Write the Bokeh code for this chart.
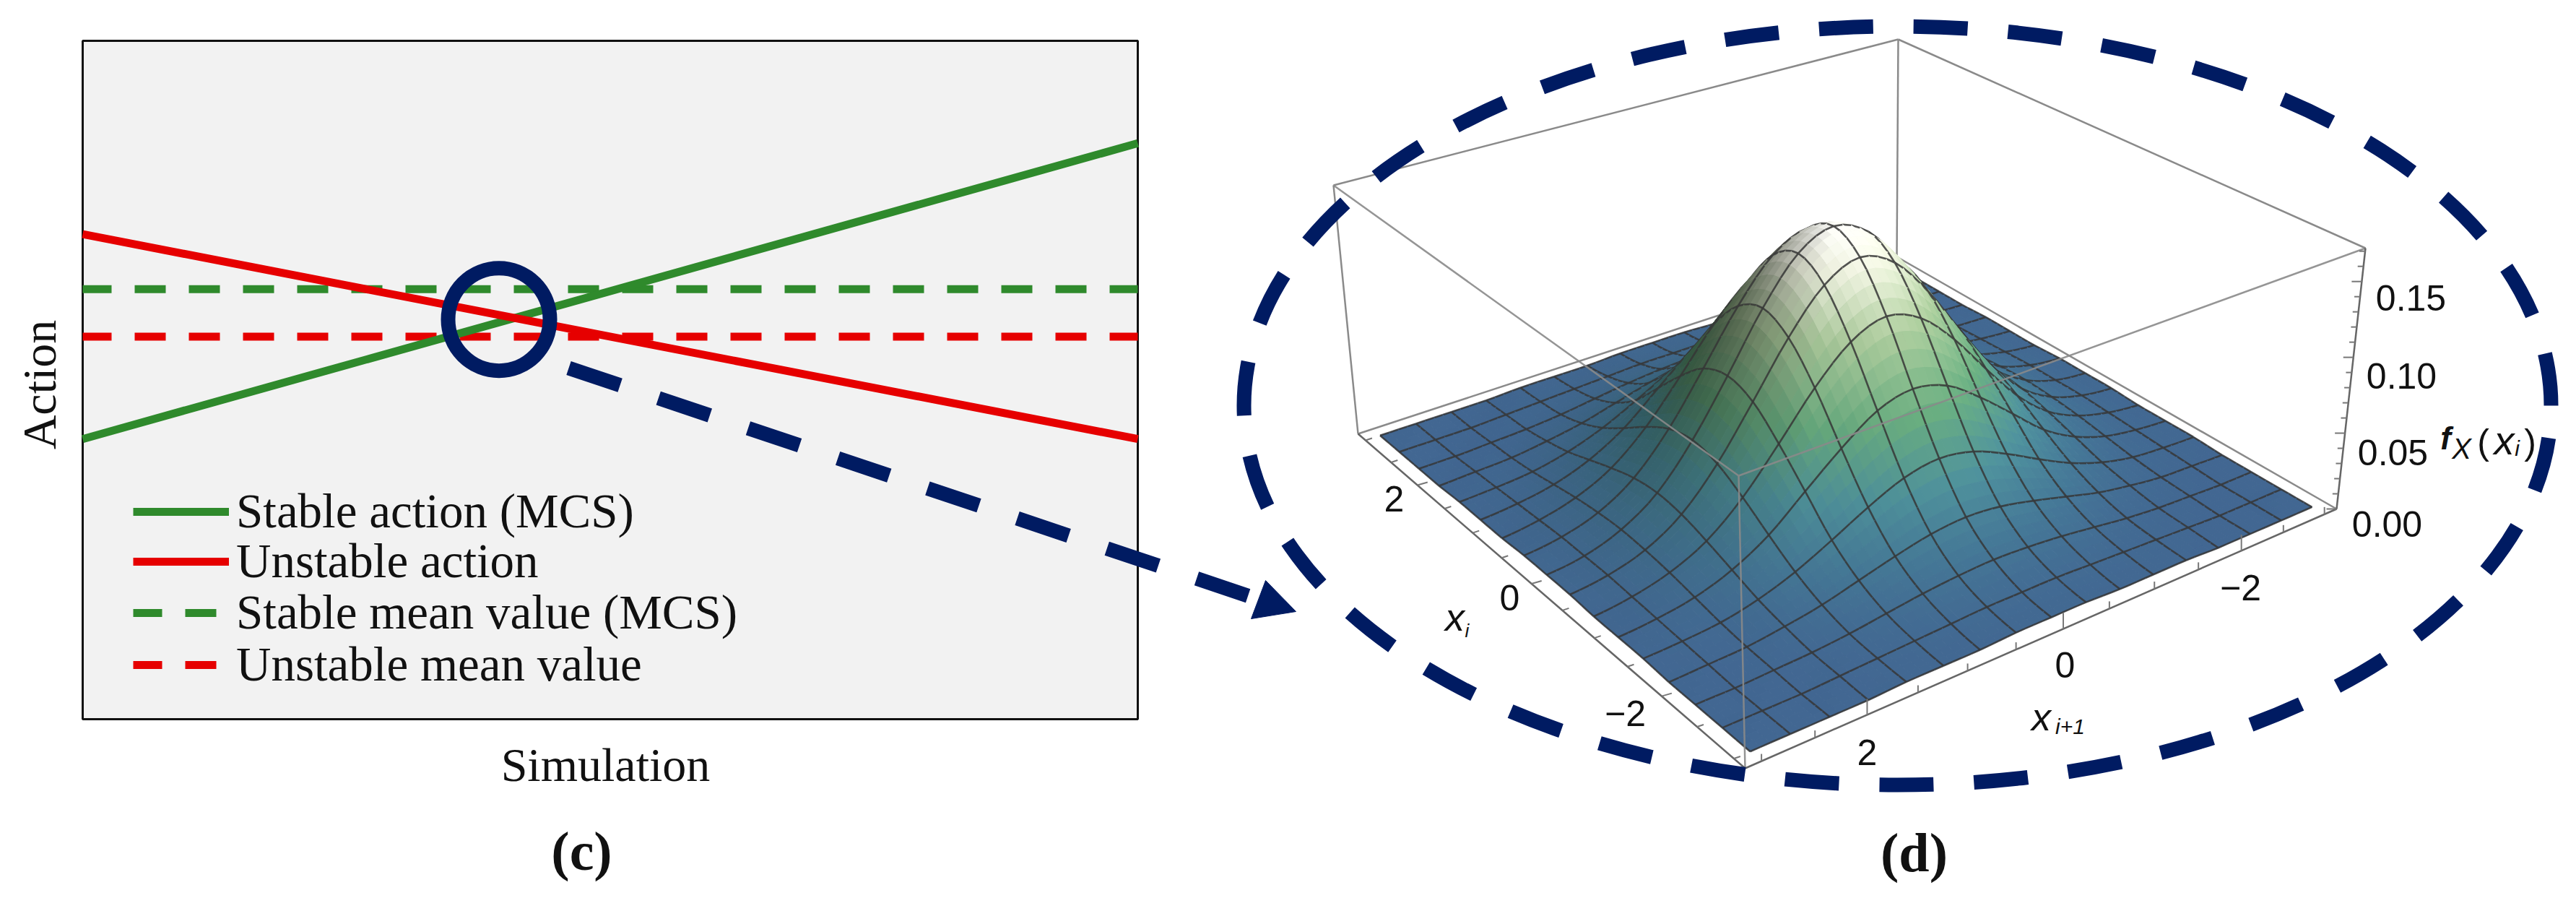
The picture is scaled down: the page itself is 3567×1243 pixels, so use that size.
import numpy as np
from bokeh.plotting import figure
from bokeh.models import Range1d, ColumnDataSource, Legend, LegendItem
from bokeh.core.properties import value
from bokeh.embed import file_html
from bokeh.resources import INLINE

# ---------- panel (c) data (normalised axes: 0..1 over the panel box) ----------
sim = [0.0, 1.0]
stable_action = [0.413, 0.849]
unstable_action = [0.715, 0.413]
stable_mean = [0.634, 0.634]
unstable_mean = [0.564, 0.564]
legend_labels = ["Stable action (MCS)", "Unstable action", "Stable mean value (MCS)", "Unstable mean value"]

# ---------- panel (d) data: density on the mesh nodes, in 1/1000 ----------
xi_nodes = [-3.0, -2.625, -2.25, -1.875, -1.5, -1.125, -0.75, -0.375, 0.0, 0.375, 0.75, 1.125, 1.5, 1.875, 2.25, 2.625, 3.0]
density_milli = [
    [0, 0, 0, 0, 1, 1, 1, 2, 2, 2, 1, 1, 1, 0, 0, 0, 0],
    [0, 0, 0, 1, 2, 3, 4, 5, 5, 5, 4, 3, 2, 1, 0, 0, 0],
    [0, 0, 1, 2, 4, 7, 10, 12, 13, 12, 10, 7, 4, 2, 1, 0, 0],
    [0, 1, 2, 5, 9, 15, 21, 26, 28, 26, 21, 15, 9, 5, 2, 1, 0],
    [1, 2, 4, 9, 17, 28, 40, 50, 54, 50, 40, 28, 17, 9, 4, 2, 1],
    [1, 3, 7, 15, 28, 47, 66, 82, 88, 82, 66, 47, 28, 15, 7, 3, 1],
    [1, 4, 10, 21, 40, 66, 94, 116, 125, 116, 94, 66, 40, 21, 10, 4, 1],
    [2, 5, 12, 26, 50, 82, 116, 143, 154, 143, 116, 82, 50, 26, 12, 5, 2],
    [2, 5, 13, 28, 54, 88, 125, 154, 165, 154, 125, 88, 54, 28, 13, 5, 2],
    [2, 5, 12, 26, 50, 82, 116, 143, 154, 143, 116, 82, 50, 26, 12, 5, 2],
    [1, 4, 10, 21, 40, 66, 94, 116, 125, 116, 94, 66, 40, 21, 10, 4, 1],
    [1, 3, 7, 15, 28, 47, 66, 82, 88, 82, 66, 47, 28, 15, 7, 3, 1],
    [1, 2, 4, 9, 17, 28, 40, 50, 54, 50, 40, 28, 17, 9, 4, 2, 1],
    [0, 1, 2, 5, 9, 15, 21, 26, 28, 26, 21, 15, 9, 5, 2, 1, 0],
    [0, 0, 1, 2, 4, 7, 10, 12, 13, 12, 10, 7, 4, 2, 1, 0, 0],
    [0, 0, 0, 1, 2, 3, 4, 5, 5, 5, 4, 3, 2, 1, 0, 0, 0],
    [0, 0, 0, 0, 1, 1, 1, 2, 2, 2, 1, 1, 1, 0, 0, 0, 0],
]
z_tick_labels = ["0.00", "0.05", "0.10", "0.15"]
tick_labels_xi = ["2", "0", "\u22122"]
tick_labels_xi1 = ["2", "0", "\u22122"]

# ---------- layout / style ----------
W, H, M = 3551, 1227, 0
PANEL = dict(left=114, right=1575, top=56, bottom=995)
LEGEND_ROWS = [708, 777, 848, 920]
NAVY, GREEN, RED = "#001b62", "#2f8a2c", "#e60000"
BOXC = "#8a8a8a"
DASH_NAVY = "75 56"
B, ZMAX, SUB = 3.15, 0.172, 4

floor_px = [(2416, 1063), (1880, 600), (3235, 704), (2626, 355)]
top_px = [(2407, 658), (1846, 256), (3275, 343), (2628, 54)]
corners_uv = [(-B, B), (B, B), (-B, -B), (B, -B)]


def homography(src, dst):
    A, b = [], []
    for (u, v), (x, y) in zip(src, dst):
        A.append([u, v, 1, 0, 0, 0, -u * x, -v * x]); b.append(x)
        A.append([0, 0, 0, u, v, 1, -u * y, -v * y]); b.append(y)
    h = np.linalg.solve(np.array(A, float), np.array(b, float))
    return np.append(h, 1).reshape(3, 3)


H0, H1 = homography(corners_uv, floor_px), homography(corners_uv, top_px)


def apply_h(Hm, u, v):
    u, v = np.asarray(u, float), np.asarray(v, float)
    w = Hm[2, 0] * u + Hm[2, 1] * v + Hm[2, 2]
    return (Hm[0, 0] * u + Hm[0, 1] * v + Hm[0, 2]) / w, (Hm[1, 0] * u + Hm[1, 1] * v + Hm[1, 2]) / w


def project(u, v, z=0.0):
    x0, y0 = apply_h(H0, u, v)
    x1, y1 = apply_h(H1, u, v)
    t = np.asarray(z, float) / ZMAX
    return x0 + (x1 - x0) * t, y0 + (y1 - y0) * t


def refine(a, axis):
    # smooth drawing of the mesh between table nodes (Catmull-Rom)
    a = np.moveaxis(a, axis, 0)
    p = np.concatenate([a[:1], a, a[-1:]], axis=0)
    out = []
    for k in range(len(a) - 1):
        for s in range(SUB):
            t = s / SUB
            out.append(0.5 * (2 * p[k + 1] + (p[k + 2] - p[k]) * t
                              + (2 * p[k] - 5 * p[k + 1] + 4 * p[k + 2] - p[k + 3]) * t ** 2
                              + (3 * p[k + 1] - p[k] - 3 * p[k + 2] + p[k + 3]) * t ** 3))
    out.append(a[-1])
    return np.moveaxis(np.array(out), 0, axis)


nodes = np.array(xi_nodes)
Z = np.array(density_milli, float) / 1000.0
fine = np.clip(refine(refine(Z, 0), 1), 0, None)
fu = np.interp(np.arange((len(nodes) - 1) * SUB + 1) / SUB, np.arange(len(nodes)), nodes)
UU, VV = np.meshgrid(fu, fu, indexing="ij")
SX, SY = project(UU, VV, fine)
dzu, dzv = np.gradient(fine, fu, fu)

STOPS_T = [0.0, 0.10, 0.25, 0.45, 0.70, 0.90, 1.0]
STOPS_C = [(66, 103, 146), (68, 118, 148), (76, 140, 150), (100, 165, 122), (165, 195, 150), (235, 238, 220), (255, 255, 250)]


def shade(z, slope):
    t = np.clip(z / Z.max(), 0, 1)
    c = np.array([np.interp(t, STOPS_T, [s[i] for s in STOPS_C]) for i in range(3)])
    f = 1 + np.where(slope < 0, 3.6, 0.6) * slope
    return np.clip(c * f, 0, 255)


items = []
n = fine.shape[0]
for i in range(n - 1):
    for j in range(n - 1):
        idx = [(i, j), (i + 1, j), (i + 1, j + 1), (i, j + 1)]
        zm = np.mean([fine[a] for a in idx])
        sl = np.mean([dzu[a] + dzv[a] for a in idx])
        r, g, b = shade(zm, sl)
        col = "#%02x%02x%02x" % (int(r), int(g), int(b))
        key = np.mean([VV[a] - UU[a] for a in idx])
        items.append((key, [SX[a] for a in idx], [SY[a] for a in idx], col, col, 1.0, 1.0, 1.0))
for i in range(0, n, SUB):
    for j in range(n - 1):
        for a, b_ in (((i, j), (i, j + 1)), ((j, i), (j + 1, i))):
            key = 0.5 * (VV[a] - UU[a] + VV[b_] - UU[b_]) + 0.07
            items.append((key, [SX[a], SX[b_]], [SY[a], SY[b_]], "#000000", "#363636", 2.6, 0.0, 0.85))
items.sort(key=lambda t: t[0])
surf = ColumnDataSource(dict(
    xs=[t[1] for t in items], ys=[t[2] for t in items], fc=[t[3] for t in items], lc=[t[4] for t in items],
    lw=[t[5] for t in items], fa=[t[6] for t in items], la=[t[7] for t in items]))

# ---------- canvas ----------
p = figure(width=W, height=H, output_backend="svg", toolbar_location=None,
           x_range=Range1d(M, M + W), y_range=Range1d(M + H, M),
           x_axis_location=None, y_axis_location=None, min_border=0,
           outline_line_color=None, background_fill_color="white")
p.grid.visible = False
pw, ph = PANEL["right"] - PANEL["left"], PANEL["bottom"] - PANEL["top"]
p.extra_x_ranges["sim"] = Range1d((M - PANEL["left"]) / pw, (M + W - PANEL["left"]) / pw)
p.extra_y_ranges["act"] = Range1d((PANEL["bottom"] - M - H) / ph, (PANEL["bottom"] - M) / ph)
kw = dict(x_range_name="sim", y_range_name="act")

# panel (c)
p.quad(left=[0], right=[1], bottom=[0], top=[1], fill_color="#f2f2f2", line_color="#111111", line_width=3, **kw)
r_sm = p.line(sim, stable_mean, line_color=GREEN, line_width=11, line_dash="43 32", line_dash_offset=3, **kw)
r_um = p.line(sim, unstable_mean, line_color=RED, line_width=11, line_dash="43 32", line_dash_offset=3, **kw)
r_sa = p.line(sim, stable_action, line_color=GREEN, line_width=11, **kw)
r_ua = p.line(sim, unstable_action, line_color=RED, line_width=11, **kw)
# one legend per row: the reference rows are tighter than the font's line height allows in a single Legend
for label, r, row in zip(legend_labels, [r_sa, r_ua, r_sm, r_um], LEGEND_ROWS):
    p.add_layout(Legend(items=[LegendItem(label=label, renderers=[r])],
                        location=(184, int(H - row - 38)), orientation="vertical", background_fill_alpha=0,
                        border_line_color=None, label_text_font="Liberation Serif", label_text_font_size="67px",
                        label_text_color="#111111", glyph_width=133, glyph_height=40, label_height=40,
                        padding=0, margin=0, label_standoff=10))

FONT_S, FONT_M = value("Liberation Serif"), value("Liberation Sans")


def labels(xs, ys, txt, size, font=FONT_S, style="normal", angle=0.0, color="#111111"):
    p.text(x=xs, y=ys, text=txt, text_font=font, text_font_size=value(f"{size}px"), text_font_style=style,
           text_align="center", text_baseline="middle", angle=angle, text_color=color)


labels([838], [1058], ["Simulation"], 66)
labels([54], [532], ["Action"], 66, angle=np.pi / 2)
labels([805], [1177], ["(c)"], 76, style="bold")
labels([2650], [1179], ["(d)"], 76, style="bold")

LB, RB, FB, BB = (B, B), (-B, -B), (-B, B), (B, -B)

# box, back part
for c0, c1, z0, z1 in [(LB, BB, ZMAX, ZMAX), (BB, RB, ZMAX, ZMAX), (BB, BB, ZMAX, 0.0), (LB, LB, ZMAX, 0.0),
                       (LB, BB, 0.0, 0.0), (BB, RB, 0.0, 0.0)]:
    xs, ys = project([c0[0], c1[0]], [c0[1], c1[1]], [z0, z1])
    p.line(list(xs), list(ys), line_color=BOXC, line_width=2.5)

# surface
p.patches("xs", "ys", source=surf, fill_color="fc", line_color="lc", line_width="lw", fill_alpha="fa", line_alpha="la")

# box, front part
for c0, c1, z0, z1, col in [(LB, FB, ZMAX, ZMAX, BOXC), (FB, RB, ZMAX, ZMAX, BOXC), (FB, FB, ZMAX, 0.0, BOXC),
                            (RB, RB, ZMAX, 0.0, "#555555"), (LB, FB, 0.0, 0.0, "#555555"), (FB, RB, 0.0, 0.0, "#555555")]:
    xs, ys = project([c0[0], c1[0]], [c0[1], c1[1]], [z0, z1])
    p.line(list(xs), list(ys), line_color=col, line_width=2.5, line_alpha=0.9)

# ticks
tx0, ty0, tx1, ty1 = [], [], [], []
for t in np.arange(-3, 3.01, 0.5):
    major = abs(t % 2) < 1e-6
    x, y = project(t, B, 0.0)
    tx0.append(float(x)); ty0.append(float(y)); tx1.append(float(x) + (14 if major else 9)); ty1.append(float(y) - (4 if major else 3))
    x, y = project(-B, t, 0.0)
    tx0.append(float(x)); ty0.append(float(y)); tx1.append(float(x)); ty1.append(float(y) - (22 if major else 10))
for z in np.arange(0, 0.1701, 0.01):
    major = abs((z * 100) % 5) < 1e-6
    x, y = project(-B, -B, z)
    tx0.append(float(x)); ty0.append(float(y)); tx1.append(float(x) - (14 if major else 8)); ty1.append(float(y))
p.segment(tx0, ty0, tx1, ty1, line_color="#777777", line_width=2)

# panel (d) labels
labels([3338, 3325, 3313, 3305], [412, 520, 626, 725], z_tick_labels[::-1], 50, font=FONT_M)
labels([1930, 2090, 2250], [690, 827, 987], tick_labels_xi, 50, font=FONT_M)
labels([2585, 2859, 3102], [1041, 920, 813], tick_labels_xi1, 50, font=FONT_M)
labels([2014], [853], ["x"], 54, font=FONT_M, style="italic")
labels([2031], [872], ["i"], 26, font=FONT_M, style="italic")
labels([2826], [991], ["x"], 54, font=FONT_M, style="italic")
labels([2866], [1005], ["i+1"], 30, font=FONT_M, style="italic")
labels([3386], [606], ["f"], 44, font=FONT_M, style="bold italic")
labels([3408], [620], ["X"], 40, font=FONT_M, style="italic")
labels([3438], [611], ["("], 50, font=FONT_M)
labels([3467], [609], ["x"], 56, font=FONT_M, style="italic")
labels([3485], [620], ["i"], 30, font=FONT_M, style="italic")
labels([3503], [611], [")"], 50, font=FONT_M)

# ring, arrow and dashed ellipse
p.ellipse(x=[690.5], y=[441.7], width=[141], height=[142], fill_color=None, line_color=NAVY, line_width=20)
arrow_x, arrow_y = [787, 1742], [509, 829]
p.line(arrow_x, arrow_y, line_color=NAVY, line_width=20, line_dash="75 56")
p.patch([1794, 1752, 1732], [846, 803, 856], fill_color=NAVY, line_color=NAVY)
p.ellipse(x=[2627], y=[561], width=[1810], height=[1050], fill_color=None, line_color=NAVY, line_width=20,
          line_dash=DASH_NAVY, line_dash_offset=86)

open("out.html", "w").write(file_html(p, INLINE))
